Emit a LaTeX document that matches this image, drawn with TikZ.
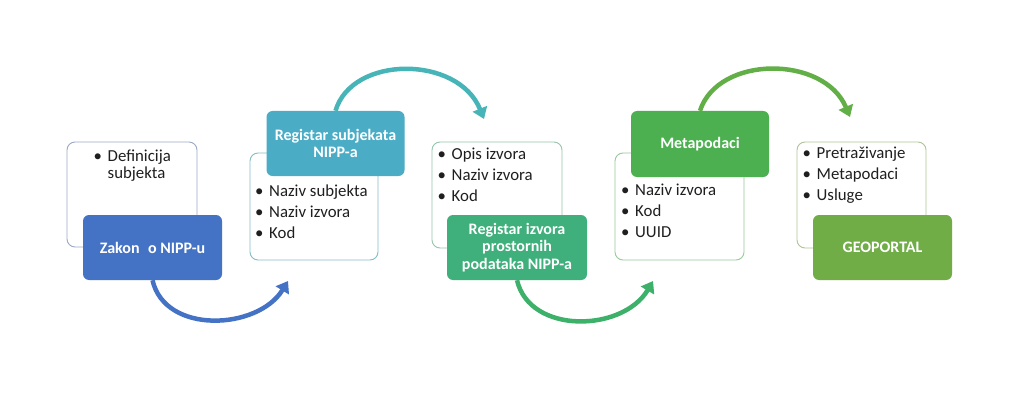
\documentclass[tikz,border=0pt]{standalone}
\usepackage{fontspec}
\setmainfont{Carlito}
\usetikzlibrary{arrows.meta}
\definecolor{cblue}{HTML}{4472C4}
\definecolor{cteal}{HTML}{4BACC6}
\definecolor{cteala}{HTML}{47B5B8}
\definecolor{cgreenA}{HTML}{3FAF7B}
\definecolor{cgreenAa}{HTML}{3DB06A}
\definecolor{cgreenB}{HTML}{4CAF50}
\definecolor{cgreenBa}{HTML}{62AE47}
\definecolor{cgreenC}{HTML}{70AD47}
\definecolor{oA}{HTML}{9AA9C9}
\definecolor{oB}{HTML}{86BCC6}
\definecolor{oC}{HTML}{94C6AC}
\definecolor{oD}{HTML}{9AC89B}
\definecolor{oE}{HTML}{ADC496}
\newcommand\bu{\makebox[14pt][l]{\textbullet}}
\begin{document}
\begin{tikzpicture}[x=1pt,y=-1pt,
  wbox/.style={draw=#1, line width=0.9pt, fill=white, rounded corners=8pt, inner sep=0pt},
  cbox/.style={fill=#1, rounded corners=6pt, text=white, font=\fontsize{16}{17.5}\selectfont\bfseries, align=center, inner sep=0pt, minimum width=139pt, minimum height=65pt},
  lst/.style={anchor=base west, inner sep=0pt, text=black!88, font=\fontsize{16.8}{20.8}\selectfont},
  arr/.style={draw=#1, line width=4.5pt, -{Triangle[length=11pt,width=15pt]}}]
\fill[white] (0,0) rectangle (1024,406);
\useasboundingbox (0,0) rectangle (1024,406);

% white boxes
\node[wbox=oA, minimum width=130pt, minimum height=105pt] (w1) at (132,194.5) {};
\node[wbox=oB, minimum width=128pt, minimum height=107pt] (w2) at (314,206.5) {};
\node[wbox=oC, minimum width=130pt, minimum height=106pt] (w3) at (497,195) {};
\node[wbox=oD, minimum width=129pt, minimum height=107pt] (w4) at (679.5,206.5) {};
\node[wbox=oE, minimum width=129pt, minimum height=106pt] (w5) at (861.5,195) {};

% lists
\node[lst] (l1) at (93.5,161) {\begin{tabular}[t]{@{}l@{}}\bu Definicija\\[-3pt]\hspace{14pt}subjekta\end{tabular}};
\node[lst] (l2) at (255,196.5) {\begin{tabular}[t]{@{}l@{}}\bu Naziv subjekta\\\bu Naziv izvora\\\bu Kod\end{tabular}};
\node[lst] (l3) at (437.5,160) {\begin{tabular}[t]{@{}l@{}}\bu Opis izvora\\\bu Naziv izvora\\\bu Kod\end{tabular}};
\node[lst] (l4) at (621,195.5) {\begin{tabular}[t]{@{}l@{}}\bu Naziv izvora\\\bu Kod\\\bu UUID\end{tabular}};
\node[lst] (l5) at (802.5,159) {\begin{tabular}[t]{@{}l@{}}\bu Pretraživanje\\\bu Metapodaci\\\bu Usluge\end{tabular}};

% coloured boxes
\node[cbox=cblue] (zakon) at (152.5,247.5) {Zakon\hspace{0.3em} o NIPP-u};
\node[cbox=cteal, minimum width=138pt] (regsub) at (335.5,143.5) {Registar subjekata\\NIPP-a};
\node[cbox=cgreenA, minimum width=140pt] (regizv) at (517,247.5) {Registar izvora\\prostornih\\podataka NIPP-a};
\node[cbox=cgreenB, minimum width=138pt, minimum height=66pt] (meta) at (700,144) {Metapodaci};
\node[cbox=cgreenC] (geo) at (882.5,247.5) {GEOPORTAL};

% arrow end points
\coordinate (e1) at (288,281);
\coordinate (e2) at (484,119);
\coordinate (e3) at (653,281);
\coordinate (e4) at (850,117);

% arrows
\draw[arr=cblue] (zakon.south) .. controls (165,335) and (258,330) .. (e1);
\draw[arr=cteala] (regsub.north) .. controls (352,55) and (458,55) .. (e2);
\draw[arr=cgreenAa] (regizv.south) .. controls (530,335) and (623,332) .. (e3);
\draw[arr=cgreenBa] (meta.north) .. controls (718,55) and (824,55) .. (e4);
\end{tikzpicture}
\end{document}
